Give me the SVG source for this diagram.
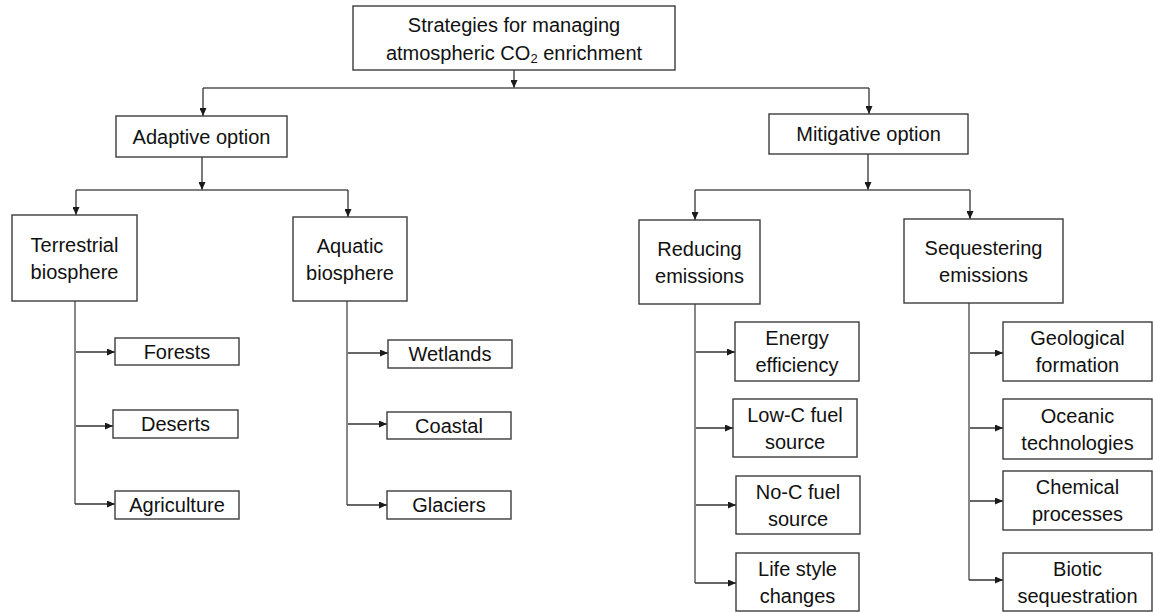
<svg xmlns="http://www.w3.org/2000/svg" width="1153" height="613" viewBox="0 0 1153 613">
<defs>
<marker id="arr" markerUnits="userSpaceOnUse" markerWidth="8" markerHeight="7" refX="8" refY="3.5" orient="auto">
<path d="M0,0 L8,3.5 L0,7 z" fill="#1a1a1a"/>
</marker>
<style>
.box{fill:#fff;stroke:#3c3c3c;stroke-width:1.4}
.t{font-family:"Liberation Sans",Arial,sans-serif;font-size:20px;fill:#111;text-anchor:middle;dominant-baseline:central}
.c{fill:none;stroke:#555;stroke-width:1.4}
.a{fill:none;stroke:#333;stroke-width:1.3;marker-end:url(#arr)}
</style>
</defs>
<rect width="1153" height="613" fill="#fff"/>
<g id="connectors">
<path class="a" d="M514,70 V88"/>
<path class="c" d="M203,88 H869"/>
<path class="a" d="M203,88 V116"/>
<path class="a" d="M869,88 V114"/>
<path class="a" d="M202,157 V190"/>
<path class="c" d="M76,190 H348"/>
<path class="a" d="M76,190 V215"/>
<path class="a" d="M348,190 V217"/>
<path class="a" d="M868,154 V190"/>
<path class="c" d="M695,190 H970"/>
<path class="a" d="M695,190 V220"/>
<path class="a" d="M970,190 V219"/>
<path class="c" d="M75,301 V504"/>
<path class="a" d="M76,352 H115"/>
<path class="a" d="M76,426 H113"/>
<path class="a" d="M75,504 H115"/>
<path class="c" d="M347,301 V505"/>
<path class="a" d="M348,353 H388"/>
<path class="a" d="M348,424 H387"/>
<path class="a" d="M347,505 H387"/>
<path class="c" d="M695,304 V583"/>
<path class="a" d="M696,352 H735"/>
<path class="a" d="M696,428 H733"/>
<path class="a" d="M696,505 H736"/>
<path class="a" d="M695,583 H736"/>
<path class="c" d="M969,303 V580"/>
<path class="a" d="M970,353 H1003"/>
<path class="a" d="M970,428 H1003"/>
<path class="a" d="M970,501 H1003"/>
<path class="a" d="M969,580 H1003"/>
</g>
<g id="n-top"><rect class="box" x="353" y="6" width="322" height="64"/>
<text class="t" x="514" y="25">Strategies for managing</text>
<text class="t" x="514" y="53">atmospheric CO<tspan font-size="13" dy="5">2</tspan><tspan dy="-5"> enrichment</tspan></text></g>
<g id="n-adaptive"><rect class="box" x="116" y="116" width="171" height="41"/><text class="t" x="201.5" y="136.5">Adaptive option</text></g>
<g id="n-mitigative"><rect class="box" x="769" y="114" width="199" height="40"/><text class="t" x="868.5" y="134">Mitigative option</text></g>
<g id="n-terrestrial"><rect class="box" x="12" y="215" width="125" height="86"/><text class="t" x="74.5" y="244.5">Terrestrial</text><text class="t" x="74.5" y="271.5">biosphere</text></g>
<g id="n-aquatic"><rect class="box" x="293" y="217" width="114" height="84"/><text class="t" x="350" y="245.5">Aquatic</text><text class="t" x="350" y="272.5">biosphere</text></g>
<g id="n-reducing"><rect class="box" x="639" y="220" width="121" height="84"/><text class="t" x="699.5" y="248.5">Reducing</text><text class="t" x="699.5" y="275.5">emissions</text></g>
<g id="n-sequestering"><rect class="box" x="904" y="219" width="159" height="84"/><text class="t" x="983.5" y="247.5">Sequestering</text><text class="t" x="983.5" y="274.5">emissions</text></g>
<g id="n-forests"><rect class="box" x="115" y="338" width="124" height="27"/><text class="t" x="177" y="351.5">Forests</text></g>
<g id="n-deserts"><rect class="box" x="113" y="410" width="125" height="28"/><text class="t" x="175.5" y="424">Deserts</text></g>
<g id="n-agriculture"><rect class="box" x="115" y="491" width="124" height="28"/><text class="t" x="177" y="505">Agriculture</text></g>
<g id="n-wetlands"><rect class="box" x="388" y="340" width="124" height="28"/><text class="t" x="450" y="354">Wetlands</text></g>
<g id="n-coastal"><rect class="box" x="387" y="412" width="124" height="27"/><text class="t" x="449" y="425.5">Coastal</text></g>
<g id="n-glaciers"><rect class="box" x="387" y="491" width="124" height="28"/><text class="t" x="449" y="505">Glaciers</text></g>
<g id="n-energy"><rect class="box" x="735" y="322" width="124" height="59"/><text class="t" x="797" y="338">Energy</text><text class="t" x="797" y="365">efficiency</text></g>
<g id="n-lowc"><rect class="box" x="733" y="399" width="124" height="58"/><text class="t" x="795" y="414.5">Low-C fuel</text><text class="t" x="795" y="441.5">source</text></g>
<g id="n-noc"><rect class="box" x="736" y="476" width="124" height="58"/><text class="t" x="798" y="491.5">No-C fuel</text><text class="t" x="798" y="518.5">source</text></g>
<g id="n-life"><rect class="box" x="736" y="553" width="123" height="58"/><text class="t" x="797.5" y="568.5">Life style</text><text class="t" x="797.5" y="595.5">changes</text></g>
<g id="n-geological"><rect class="box" x="1003" y="322" width="149" height="59"/><text class="t" x="1077.5" y="338">Geological</text><text class="t" x="1077.5" y="365">formation</text></g>
<g id="n-oceanic"><rect class="box" x="1003" y="399" width="149" height="60"/><text class="t" x="1077.5" y="415.5">Oceanic</text><text class="t" x="1077.5" y="442.5">technologies</text></g>
<g id="n-chemical"><rect class="box" x="1003" y="471" width="149" height="59"/><text class="t" x="1077.5" y="487">Chemical</text><text class="t" x="1077.5" y="514">processes</text></g>
<g id="n-biotic"><rect class="box" x="1003" y="553" width="149" height="58"/><text class="t" x="1077.5" y="568.5">Biotic</text><text class="t" x="1077.5" y="595.5">sequestration</text></g>
</svg>
